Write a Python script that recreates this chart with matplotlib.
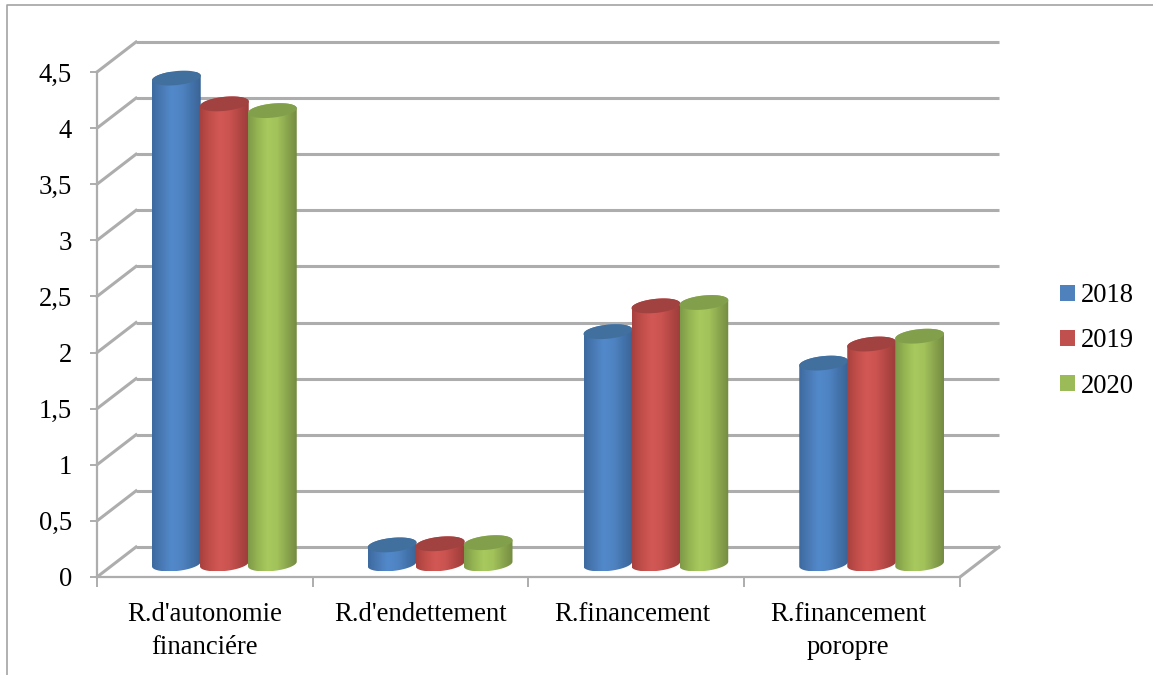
#!/usr/bin/env python3
# Grouped "3D" cylinder chart of financial ratios, 2018-2020.
import matplotlib; matplotlib.use("Agg")
import numpy as np, matplotlib.pyplot as plt
from matplotlib.colors import LinearSegmentedColormap
from matplotlib.lines import Line2D
from matplotlib.patches import Patch, PathPatch
from matplotlib.path import Path
from matplotlib.transforms import ScaledTranslation

categories=["R.d'autonomie\nfinanciére","R.d'endettement","R.financement","R.financement\nporopre"]
years=["2018","2019","2020"]
v2018=[4.33,0.17,2.07,1.79]
v2019=[4.10,0.18,2.30,1.96]
v2020=[4.04,0.19,2.33,2.03]
yticks=[0,0.5,1,1.5,2,2.5,3,3.5,4,4.5]
ylabels=["0","0,5","1","1,5","2","2,5","3","3,5","4","4,5"]
legend_colors=["#4f81bd","#c0504d","#9bbb59"]

W,H=1153,675
L,R,B,T=97,960,577,72      # front plane in pixels
DX,DY=39,30                # depth of the box in pixels
px_x=(R-L)/4; px_y=(B-T)/4.5
GREY="#adadad"
FS=19.2

# colour stops across each cylinder, plus the darker lid colour
shades={"2018":(["#3d6a9f","#4a7ab5","#5289cb","#4f84c3","#4474ad","#3a6496"],"#41709f"),
        "2019":(["#a8413e","#c24e4a","#d25855","#cb5350","#b34744","#9c3e3b"],"#a14240"),
        "2020":(["#7f9a48","#96b653","#a8c95e","#a2c25a","#8ba64e","#748c41"],"#82a04b")}
series=[v2018,v2019,v2020]

plt.rcParams["font.family"]=["Liberation Serif","DejaVu Serif"]
fig=plt.figure(figsize=(W/100,H/100),dpi=100)
ax=fig.add_axes([L/W,1-B/H,(R-L)/W,(B-T)/H])
ax.patch.set_visible(False)

# back wall, side wall and floor
dx=DX/px_x; dy=DY/px_y
for v in yticks:
    ax.plot([dx,4+dx],[v+dy,v+dy],color=GREY,lw=2.2,zorder=1,clip_on=False,solid_capstyle="butt")
    ax.plot([0,dx],[v,v+dy],color=GREY,lw=2.2,zorder=1,clip_on=False)
ax.plot([4,4+dx],[0,dy],color=GREY,lw=2.2,zorder=1,clip_on=False)

def ellipse(cx,cy,t):
    # tilted ellipse in data units; right end sits higher than the left
    a,b,th=24.5,7.0,np.radians(6)
    xp=a*np.cos(t)*np.cos(th)-b*np.sin(t)*np.sin(th)
    yp=a*np.cos(t)*np.sin(th)+b*np.sin(t)*np.cos(th)
    return cx+xp/px_x,cy+yp/px_y

bar_w=48/px_x
base=13/px_y   # cylinders stand part way back on the floor
z=3
for c in range(len(categories)):
    for s,vals in enumerate(series):
        cx=c+0.5+dx/2+(s-1)*bar_w
        top=base+vals[c]
        stops,lid=shades[years[s]]
        t1=np.linspace(np.pi,2*np.pi,40); t2=np.linspace(0,np.pi,40)
        xb,yb=ellipse(cx,base,t1); xt,yt=ellipse(cx,top,t2)
        xs=np.r_[xb,xt]; ys=np.r_[yb,yt]
        body=PathPatch(Path(np.c_[xs,ys]),fc="none",ec="none",zorder=z,clip_on=False)
        ax.add_patch(body)
        cmap=LinearSegmentedColormap.from_list("c",stops)
        im=ax.imshow(np.linspace(0,1,64)[None,:],cmap=cmap,aspect="auto",zorder=z,
                     extent=[xs.min(),xs.max(),ys.min(),ys.max()])
        im.set_clip_path(body)
        xl,yl=ellipse(cx,top,np.linspace(0,2*np.pi,80))
        ax.fill(xl,yl,color=lid,lw=0,zorder=z+0.5,clip_on=False)
        z+=1

ax.set_xlim(0,4); ax.set_ylim(0,4.5)
for n in ("top","right"): ax.spines[n].set_visible(False)
for n in ("left","bottom"):
    ax.spines[n].set_color(GREY); ax.spines[n].set_linewidth(1.6)
ax.set_yticks(yticks); ax.set_yticklabels(ylabels,fontsize=FS,color="black")
ax.set_xticks(range(5)); ax.set_xticklabels([])
ax.set_xticks(np.arange(4)+0.5,minor=True)
ax.set_xticklabels(categories,minor=True,fontsize=FS,linespacing=1.4,color="black")
ax.tick_params(axis="y",length=5,width=1.4,color=GREY,pad=13)
ax.tick_params(axis="x",which="major",length=7,width=1.4,color=GREY)
ax.tick_params(axis="x",which="minor",length=0,pad=18)

# the two right-hand labels sit a little left of their category centres
for lbl,off in zip(ax.get_xticklabels(minor=True),[0,0,-4,-4]):
    lbl.set_transform(lbl.get_transform()+ScaledTranslation(off/100,0,fig.dpi_scale_trans))

handles=[Patch(fc=col,ec="none",label=y) for y,col in zip(years,legend_colors)]
fig.legend(handles=handles,loc="center left",bbox_to_anchor=(1060/W,1-341/H),frameon=False,
           fontsize=FS,handlelength=0.55,handleheight=0.55,handletextpad=0.25,labelspacing=0.76,
           borderpad=0,borderaxespad=0)

# thin frame along the top and left edges only
fig.add_artist(Line2D([7/W,7/W,1],[0,1-5/H,1-5/H],color="#a3a3a3",lw=1.2))
fig.savefig("out.png",dpi=100)
